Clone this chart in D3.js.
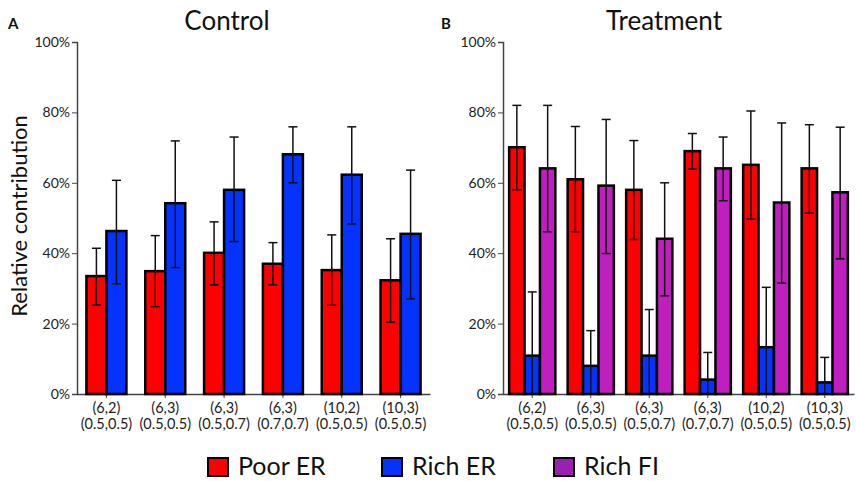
<!DOCTYPE html>
<html>
<head>
<meta charset="utf-8">
<script src="https://cdn.jsdelivr.net/npm/d3@7"></script>
<style>
  body { margin: 0; background: #fff; }
  text { font-family: Lato, "Open Sans", sans-serif; }
</style>
</head>
<body>
<div id="chart"></div>
<script>
// categories
groupLabels = [
  ["(6,2)", "(0.5,0.5)"],
  ["(6,3)", "(0.5,0.5)"],
  ["(6,3)", "(0.5,0.7)"],
  ["(6,3)", "(0.7,0.7)"],
  ["(10,2)", "(0.5,0.5)"],
  ["(10,3)", "(0.5,0.5)"]
]
yTicks = [0, 20, 40, 60, 80, 100]

// Control panel (values in %)
controlPoor = [33.5, 34.9, 40.1, 37.0, 35.2, 32.3]
controlPoorErr = [[25.3, 41.4], [24.8, 45.0], [31.0, 48.9], [31.0, 43.0], [25.2, 45.2], [20.4, 44.1]]
controlRich = [46.3, 54.2, 58.0, 68.1, 62.3, 45.5]
controlRichErr = [[31.3, 60.7], [35.9, 71.9], [43.3, 73.0], [60.0, 75.9], [48.3, 75.9], [27.0, 63.6]]

// Treatment panel (values in %)
treatPoor = [70.1, 61.0, 58.0, 69.0, 65.1, 64.1]
treatPoorErr = [[58.0, 82.0], [46.1, 76.0], [43.9, 72.0], [63.9, 74.0], [49.7, 80.4], [51.4, 76.5]]
treatRich = [10.9, 8.0, 10.9, 4.1, 13.3, 3.3]
treatRichErr = [[0, 29.0], [0, 18.0], [0, 24.0], [0, 11.8], [0, 30.3], [0, 10.4]]
treatFi = [64.1, 59.2, 44.1, 64.1, 54.4, 57.3]
treatFiErr = [[46.1, 82.0], [39.9, 78.0], [27.9, 60.0], [54.9, 73.0], [31.5, 77.0], [38.4, 75.8]]

seriesNames = ["Poor ER", "Rich ER", "Rich FI"]
barColor = {"Poor ER": "#ff0000", "Rich ER": "#0433ff", "Rich FI": "#c01fbf"}
legendColor = {"Poor ER": "#ff0000", "Rich ER": "#0433ff", "Rich FI": "#9b1fb0"}

width = 856, height = 481

svg = d3.select("#chart")
  .append("svg")
  .attr("width", width)
  .attr("height", height)

function rows(series) {
  // series: [{name, values, err}]
  out = []
  groupLabels.forEach(function(g, i) {
    series.forEach(function(s) {
      out.push({group: i, name: s.name, value: s.values[i], lo: s.err[i][0], hi: s.err[i][1]})
    })
  })
  return out
}

function drawPanel(opts) {
  y = d3.scaleLinear().domain([0, 100]).range([394, 42])
  x = d3.scaleBand()
    .domain(d3.range(groupLabels.length))
    .range(opts.xRange)
    .paddingInner(opts.pad)
    .paddingOuter(opts.pad / 2)
  names = opts.series.map(d => d.name)
  xs = d3.scaleBand().domain(names).range([0, x.bandwidth()])

  g = svg.append("g")

  // y axis
  yAxis = g.append("g")
    .attr("transform", `translate(${opts.xRange[0]},0)`)
    .call(d3.axisLeft(y).tickValues(yTicks).tickFormat(d => d + "%").tickSize(5).tickPadding(2))
  yAxis.selectAll("text").style("font-size", "14px").style("font-family", "Lato, sans-serif").attr("fill", "#222")
  yAxis.selectAll("line").attr("stroke", "#444")
  yAxis.select(".domain").attr("stroke", "#444").attr("stroke-width", 1.5)

  // x axis
  xAxis = g.append("g")
    .attr("transform", "translate(0,394)")
    .call(d3.axisBottom(x).tickSize(4).tickSizeOuter(0).tickFormat(""))
  xAxis.select(".domain").attr("stroke", "#444").attr("stroke-width", 1.5)
  xAxis.selectAll("line").attr("stroke", "#444")
  xAxis.selectAll(".tick text").each(function(d) {
    t = d3.select(this).attr("y", 0).attr("dy", null)
      .style("font-size", "14.5px").style("font-family", "Lato, sans-serif").attr("fill", "#222")
    t.append("tspan").attr("x", 0).attr("y", 19).text(groupLabels[d][0])
    t.append("tspan").attr("x", 0).attr("y", 35).text(groupLabels[d][1])
  })

  data = rows(opts.series)

  // bars
  g.selectAll(".bar")
    .data(data)
    .join("rect")
    .attr("class", "bar")
    .attr("x", d => x(d.group) + xs(d.name))
    .attr("y", d => y(d.value))
    .attr("width", xs.bandwidth())
    .attr("height", d => y(0) - y(d.value))
    .attr("fill", d => barColor[d.name])
    .attr("stroke", "#000")
    .attr("stroke-width", 2.5)

  // error bars
  eb = g.selectAll(".err")
    .data(data)
    .join("g")
    .attr("class", "err")
    .attr("transform", d => `translate(${x(d.group) + xs(d.name) + xs.bandwidth() / 2},0)`)
  eb.append("line")
    .attr("y1", d => y(d.lo))
    .attr("y2", d => y(d.hi))
    .attr("stroke", "#111")
    .attr("stroke-width", 1.5)
  eb.append("line")
    .attr("x1", -4.5).attr("x2", 4.5)
    .attr("y1", d => y(d.hi)).attr("y2", d => y(d.hi))
    .attr("stroke", "#111")
    .attr("stroke-width", 1.5)
  eb.filter(d => d.lo > 0).append("line")
    .attr("x1", -4.5).attr("x2", 4.5)
    .attr("y1", d => y(d.lo)).attr("y2", d => y(d.lo))
    .attr("stroke", "#111")
    .attr("stroke-width", 1.5)

  // title and panel letter
  svg.append("text")
    .attr("x", opts.titleX)
    .attr("y", 30)
    .attr("text-anchor", "middle")
    .style("font-size", "26px")
    .attr("fill", "#111")
    .text(opts.title)
  svg.append("text")
    .attr("x", opts.letterX)
    .attr("y", 29)
    .style("font-size", "15px")
    .style("font-weight", "bold")
    .attr("fill", "#111")
    .text(opts.letter)
}

drawPanel({
  xRange: [77, 430], pad: 0.32, title: "Control", titleX: 227, letter: "A", letterX: 8,
  series: [
    {name: "Poor ER", values: controlPoor, err: controlPoorErr},
    {name: "Rich ER", values: controlRich, err: controlRichErr}
  ]
})

drawPanel({
  xRange: [503, 854], pad: 0.21, title: "Treatment", titleX: 664, letter: "B", letterX: 441,
  series: [
    {name: "Poor ER", values: treatPoor, err: treatPoorErr},
    {name: "Rich ER", values: treatRich, err: treatRichErr},
    {name: "Rich FI", values: treatFi, err: treatFiErr}
  ]
})

// y axis label
svg.append("text")
  .attr("transform", "translate(27,216) rotate(-90)")
  .attr("text-anchor", "middle")
  .style("font-size", "22px")
  .attr("fill", "#111")
  .text("Relative contribution")

// legend
legendX = [208, 382, 554]
leg = svg.selectAll(".legend")
  .data(seriesNames)
  .join("g")
  .attr("class", "legend")
  .attr("transform", (d, i) => `translate(${legendX[i]},458)`)
leg.append("rect")
  .attr("width", 20)
  .attr("height", 18)
  .attr("fill", d => legendColor[d])
  .attr("stroke", "#000")
  .attr("stroke-width", 2)
leg.append("text")
  .attr("x", 30)
  .attr("y", 17)
  .style("font-size", "25px")
  .attr("fill", "#111")
  .text(d => d)
</script>
</body>
</html>
